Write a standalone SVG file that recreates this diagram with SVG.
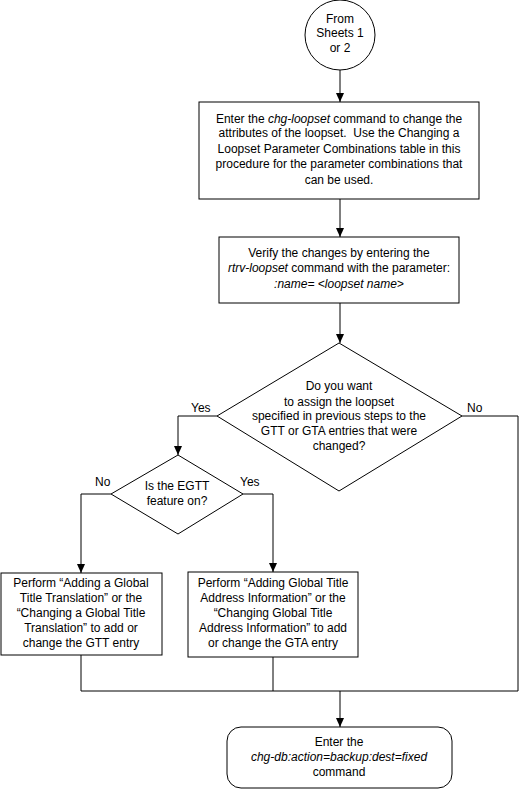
<svg xmlns="http://www.w3.org/2000/svg" width="519" height="789" viewBox="0 0 519 789">
<style>
.s{fill:#fff;stroke:#000;stroke-width:1}
.t{font-family:"Liberation Sans",Arial,sans-serif;font-size:12px;fill:#000;text-anchor:middle}
.l{font-family:"Liberation Sans",Arial,sans-serif;font-size:12px;fill:#000}
.i{font-style:italic}
.c{fill:none;stroke:#000;stroke-width:1}
</style>
<defs>
<marker id="a" markerWidth="9" markerHeight="8" refX="9" refY="4" orient="auto" markerUnits="userSpaceOnUse" viewBox="0 0 9 8">
<path d="M0,0 L9,4 L0,8 Z" fill="#000"/>
</marker>
</defs>
<rect width="519" height="789" fill="#fff"/>
<g id="connectors">
<line class="c" x1="340" y1="70" x2="340" y2="102" marker-end="url(#a)"/>
<line class="c" x1="340" y1="199" x2="340" y2="237" marker-end="url(#a)"/>
<line class="c" x1="340" y1="303" x2="340" y2="343" marker-end="url(#a)"/>
<polyline class="c" points="217,416 178,416 178,455" marker-end="url(#a)"/>
<polyline class="c" points="462,416 518,416 518,691"/>
<polyline class="c" points="111,494 81,494 81,573" marker-end="url(#a)"/>
<polyline class="c" points="243,494 273,494 273,572" marker-end="url(#a)"/>
<line class="c" x1="81" y1="655" x2="81" y2="691"/>
<line class="c" x1="273" y1="657" x2="273" y2="691"/>
<line class="c" x1="81" y1="691" x2="518" y2="691"/>
<line class="c" x1="340" y1="691" x2="340" y2="727" marker-end="url(#a)"/>
<text class="l" x="191" y="412">Yes</text>
<text class="l" x="467" y="412">No</text>
<text class="l" x="95" y="486">No</text>
<text class="l" x="240" y="486">Yes</text>
</g>
<g id="start">
<circle class="s" cx="340" cy="35" r="35"/>
<text class="t" x="340" y="23">From</text>
<text class="t" x="340" y="37">Sheets 1</text>
<text class="t" x="340" y="52">or 2</text>
</g>
<g id="chg-loopset">
<rect class="s" x="199" y="102" width="280" height="97"/>
<text class="t" x="339" y="123">Enter the <tspan class="i">chg-loopset</tspan> command to change the</text>
<text class="t" x="339" y="137" xml:space="preserve">attributes of the loopset.  Use the Changing a</text>
<text class="t" x="339" y="153">Loopset Parameter Combinations table in this</text>
<text class="t" x="339" y="168">procedure for the parameter combinations that</text>
<text class="t" x="339" y="184">can be used.</text>
</g>
<g id="verify">
<rect class="s" x="219" y="237" width="240" height="66"/>
<text class="t" x="339" y="257">Verify the changes by entering the</text>
<text class="t" x="339" y="272"><tspan class="i">rtrv-loopset</tspan> command with the parameter:</text>
<text class="t i" x="339" y="288">:name= &lt;loopset name&gt;</text>
</g>
<g id="assign">
<polygon class="s" points="339,343 462,416 339,491 217,416"/>
<text class="t" x="339" y="390">Do you want</text>
<text class="t" x="339" y="406">to assign the loopset</text>
<text class="t" x="339" y="420">specified in previous steps to the</text>
<text class="t" x="339" y="435">GTT or GTA entries that were</text>
<text class="t" x="339" y="450">changed?</text>
</g>
<g id="egtt">
<polygon class="s" points="178,455 243,494 178,534 111,494"/>
<text class="t" x="177" y="490">Is the EGTT</text>
<text class="t" x="177" y="505">feature on?</text>
</g>
<g id="gtt">
<rect class="s" x="1" y="573" width="161" height="82"/>
<text class="t" x="81" y="587">Perform “Adding a Global</text>
<text class="t" x="81" y="602">Title Translation” or the</text>
<text class="t" x="81" y="617">“Changing a Global Title</text>
<text class="t" x="81" y="632">Translation” to add or</text>
<text class="t" x="81" y="647">change the GTT entry</text>
</g>
<g id="gta">
<rect class="s" x="188" y="572" width="170" height="85"/>
<text class="t" x="273" y="587">Perform “Adding Global Title</text>
<text class="t" x="273" y="602">Address Information” or the</text>
<text class="t" x="273" y="617">“Changing Global Title</text>
<text class="t" x="273" y="632">Address Information” to add</text>
<text class="t" x="273" y="647">or change the GTA entry</text>
</g>
<g id="backup">
<rect class="s" x="227" y="727" width="225" height="61" rx="14" ry="14"/>
<text class="t" x="339" y="746">Enter the</text>
<text class="t i" x="339" y="761">chg-db:action=backup:dest=fixed</text>
<text class="t" x="339" y="776">command</text>
</g>
</svg>
